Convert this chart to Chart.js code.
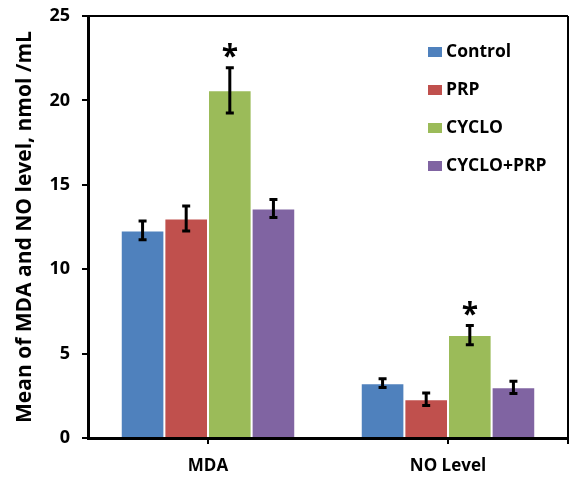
<!DOCTYPE html>
<html>
<head>
<meta charset="utf-8">
<script src="https://cdn.jsdelivr.net/npm/chart.js@4"></script>
<style>
  html, body { margin: 0; padding: 0; background: #fff; }
  #wrap { width: 570px; height: 477px; }
</style>
</head>
<body>
<div id="wrap"><canvas id="chart" width="570" height="477"></canvas></div>
<script>
const categories = ['MDA', 'NO Level'];
const groups = ['Control', 'PRP', 'CYCLO', 'CYCLO+PRP'];
const colors = ['#4F81BD', '#C0504D', '#9BBB59', '#8064A2'];

const controlVals = [12.3, 3.25];
const prpVals = [13.0, 2.3];
const cycloVals = [20.6, 6.1];
const cycloPrpVals = [13.6, 3.0];

const controlErr = [0.55, 0.26];
const prpErr = [0.74, 0.37];
const cycloErr = [1.34, 0.57];
const cycloPrpErr = [0.53, 0.36];

const yTicks = [0, 5, 10, 15, 20, 25];
// asterisk marks significance on the CYCLO bars
const starred = [[false, false], [false, false], [true, true], [false, false]];

const values = [controlVals, prpVals, cycloVals, cycloPrpVals];
const errors = [controlErr, prpErr, cycloErr, cycloPrpErr];

const FONT = '"Open Sans"';

const extras = {
  id: 'extras',
  afterDatasetsDraw(chart) {
    const c = chart.ctx;
    const y = chart.scales.y;
    const a = chart.chartArea;
    c.save();
    // error bars + stars
    chart.data.datasets.forEach((ds, i) => {
      const meta = chart.getDatasetMeta(i);
      meta.data.forEach((bar, j) => {
        const v = values[i][j], e = errors[i][j];
        const top = y.getPixelForValue(v + e);
        const bot = y.getPixelForValue(v - e);
        c.strokeStyle = '#000';
        c.lineWidth = 3;
        c.beginPath();
        c.moveTo(bar.x, top); c.lineTo(bar.x, bot);
        c.moveTo(bar.x - 4, top); c.lineTo(bar.x + 4, top);
        c.moveTo(bar.x - 4, bot); c.lineTo(bar.x + 4, bot);
        c.stroke();
        if (starred[i][j]) {
          c.fillStyle = '#000';
          c.font = 'bold 30px ' + FONT;
          c.textAlign = 'center';
          c.textBaseline = 'middle';
          c.fillText('*', bar.x, top - 10);
        }
      });
    });
    // frame
    c.strokeStyle = '#000';
    c.lineWidth = 2;
    c.beginPath();
    c.moveTo(a.left, a.top); c.lineTo(a.right, a.top);
    c.moveTo(a.right, a.top); c.lineTo(a.right, a.bottom + 6);
    c.stroke();
    // legend
    c.font = 'bold 17.5px ' + FONT;
    c.textAlign = 'left';
    c.textBaseline = 'middle';
    chart.data.datasets.forEach((ds, i) => {
      const ly = 52 + i * 38;
      c.fillStyle = ds.backgroundColor;
      c.fillRect(428, ly - 5, 14, 10);
      c.fillStyle = '#000';
      c.fillText(ds.label, 446, ly);
    });
    c.restore();
  }
};

new Chart(document.getElementById('chart'), {
  type: 'bar',
  data: {
    labels: categories,
    datasets: groups.map((g, i) => ({
      label: g,
      data: values[i],
      backgroundColor: colors[i],
      borderColor: 'rgba(255,255,255,0.35)',
      borderWidth: 1,
      barPercentage: 1,
      categoryPercentage: 0.727
    }))
  },
  options: {
    responsive: false,
    animation: false,
    layout: { padding: { top: 16, right: 2, left: 0, bottom: 0 } },
    plugins: {
      legend: { display: false },
      tooltip: { enabled: false }
    },
    scales: {
      x: {
        afterFit: s => { s.height = 39; s.paddingLeft = 0; s.paddingRight = 0; },
        grid: { offset: false, drawOnChartArea: false, tickLength: 6, color: '#000', lineWidth: 2 },
        border: { color: '#000', width: 3 },
        ticks: { color: '#000', padding: 12, font: { family: FONT, size: 17, weight: 'bold' } }
      },
      y: {
        min: 0,
        max: 25,
        afterFit: s => { s.width = 88; s.paddingTop = 0; s.paddingBottom = 0; },
        afterBuildTicks: s => { s.ticks = yTicks.map(v => ({ value: v })); },
        grid: { drawOnChartArea: false, tickLength: 6, color: '#000', lineWidth: 2 },
        border: { color: '#000', width: 3 },
        ticks: { color: '#000', padding: 12, font: { family: FONT, size: 18, weight: 'bold' } },
        title: {
          display: true,
          text: 'Mean of MDA and NO level, nmol /mL',
          color: '#000',
          padding: { top: 12, bottom: 4 },
          font: { family: FONT, size: 21, weight: 'bold' }
        }
      }
    }
  },
  plugins: [extras]
});
</script>
</body>
</html>
